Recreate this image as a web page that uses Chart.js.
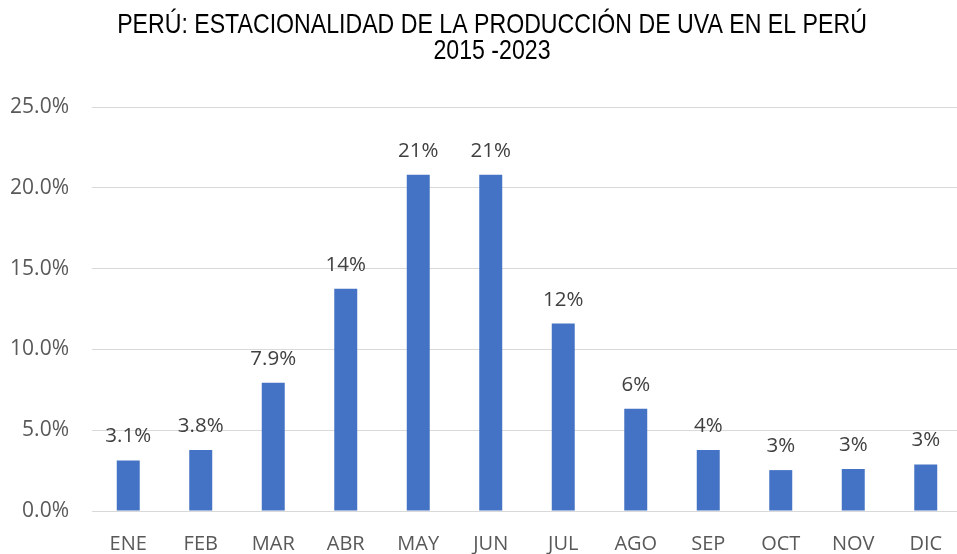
<!DOCTYPE html>
<html><head><meta charset="utf-8">
<script src="https://cdn.jsdelivr.net/npm/chart.js@4/dist/chart.umd.min.js"></script>
<style>html,body{margin:0;padding:0;background:#fff;overflow:hidden}#wrap{position:absolute;left:0;top:0;width:962px;height:554px}</style>
</head><body><div id="wrap"><canvas id="c"></canvas></div>
<script>
const categories = ["ENE","FEB","MAR","ABR","MAY","JUN","JUL","AGO","SEP","OCT","NOV","DIC"];
const values = [3.13, 3.77, 7.93, 13.75, 20.8, 20.8, 11.6, 6.33, 3.78, 2.53, 2.6, 2.88];
const valueLabels = ["3.1%","3.8%","7.9%","14%","21%","21%","12%","6%","4%","3%","3%","3%"];
const titleLines = ["PERÚ: ESTACIONALIDAD DE LA PRODUCCIÓN DE UVA EN EL PERÚ","2015 -2023"];
const yMin = 0, yMax = 25, yStep = 5;

const labelPlugin = {
  id: 'barLabels',
  afterDatasetsDraw(chart) {
    const ctx = chart.ctx;
    const meta = chart.getDatasetMeta(0);
    ctx.save();
    ctx.font = '20.5px "Open Sans", "DejaVu Sans", sans-serif';
    ctx.fillStyle = '#404040';
    ctx.textAlign = 'center';
    ctx.textBaseline = 'alphabetic';
    meta.data.forEach((bar, i) => {
      ctx.fillText(valueLabels[i], bar.x, bar.y - 18);
    });
    ctx.restore();
  }
};

const titlePlugin = {
  id: 'narrowTitle',
  afterDraw(chart) {
    const ctx = chart.ctx;
    ctx.save();
    ctx.font = '28px "Liberation Sans", Arial, sans-serif';
    ctx.fillStyle = '#000';
    ctx.textAlign = 'center';
    ctx.textBaseline = 'alphabetic';
    const cx = 492;
    ctx.translate(cx, 0);
    ctx.scale(0.826, 1);
    ctx.fillText(titleLines[0], 0, 33);
    ctx.fillText(titleLines[1], 0, 59);
    ctx.restore();
  }
};

new Chart(document.getElementById('c'), {
  type: 'bar',
  data: { labels: categories, datasets: [{ data: values, backgroundColor: '#4472C4', borderWidth: 0, categoryPercentage: 1, barPercentage: 0.317 }] },
  options: {
    responsive: true, maintainAspectRatio: false, animation: false,
    layout: { padding: { top: 107, bottom: 0, left: 0, right: 0 } },
    plugins: { legend: { display: false }, tooltip: { enabled: false }, title: { display: false } },
    scales: {
      x: {
        grid: { display: false },
        border: { display: true, color: '#d9d9d9', width: 1 },
        ticks: { color: '#595959', font: { family: '"Open Sans", "DejaVu Sans", sans-serif', size: 20 }, padding: 13, maxRotation: 0 },
        afterFit(s) { s.height = 43; }
      },
      y: {
        min: yMin, max: yMax,
        grid: { color: '#d9d9d9', lineWidth: 1, drawTicks: false },
        border: { display: false },
        ticks: { stepSize: yStep, color: '#595959', padding: 23,
          font: { family: '"Open Sans", "DejaVu Sans", sans-serif', size: 21 },
          callback: v => v.toFixed(1) + '%' },
        afterFit(s) { s.width = 92; }
      }
    }
  },
  plugins: [labelPlugin, titlePlugin]
});
</script></body></html>
